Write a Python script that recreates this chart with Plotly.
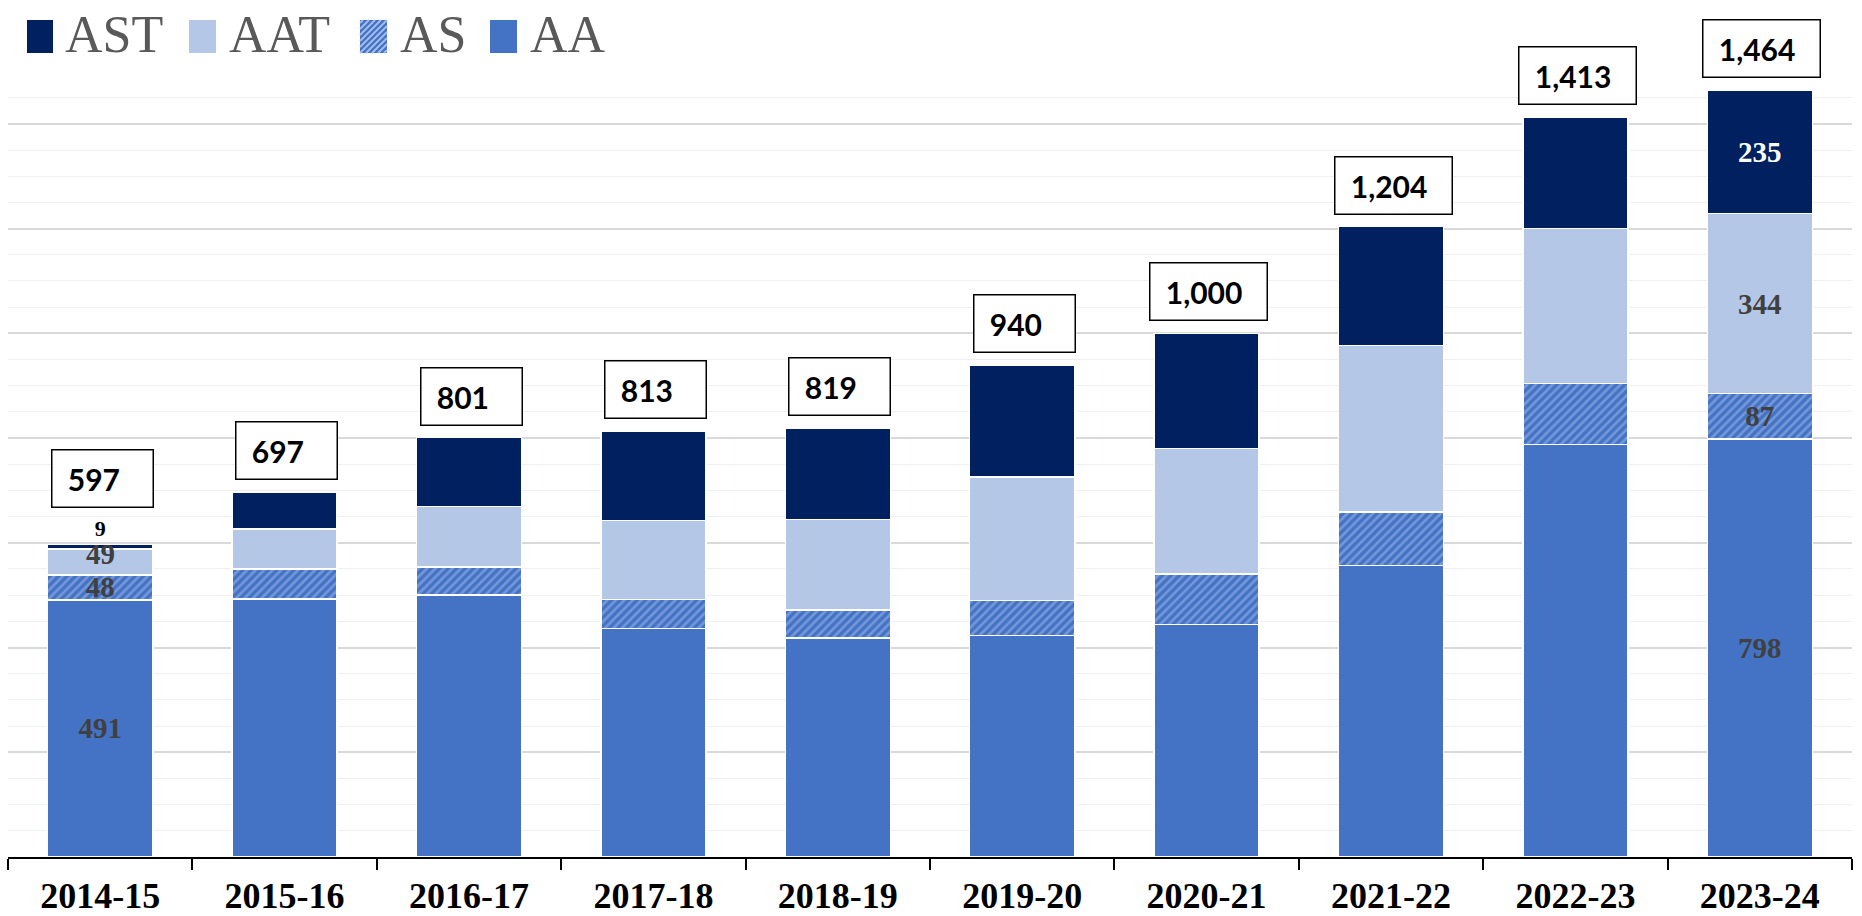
import plotly.graph_objects as go

# ---------------- data ----------------
years = ["2014-15", "2015-16", "2016-17", "2017-18", "2018-19",
         "2019-20", "2020-21", "2021-22", "2022-23", "2023-24"]
aa = [491, 493, 500, 436, 418, 423, 444, 557, 788, 798]
as_ = [48, 57, 54, 56, 54, 67, 96, 102, 116, 87]
aat = [49, 76, 115, 151, 173, 236, 240, 318, 296, 344]
ast = [9, 71, 132, 170, 174, 214, 220, 227, 213, 235]
totals = [597, 697, 801, 813, 819, 940, 1000, 1204, 1413, 1464]

# segment labels shown only on first and last bar
labelled = [0, 9]
legend_names = ["AST", "AAT", "AS", "AA"]

# ---------------- geometry ----------------
FIG_W, FIG_H = 1862, 916
M_L, M_R, M_T, M_B = 8, 10, 71, 59
PW = FIG_W - M_L - M_R
PH = FIG_H - M_T - M_B

C_AA = "#4472c4"
C_AAT = "#b4c7e7"
C_AST = "#002060"
C_STRIPE = "#a3bdec"


def seg_text(vals, skip=()):
    return [str(v) if (i in labelled and i not in skip) else "" for i, v in enumerate(vals)]


def px2paper(px, py):
    return (px - M_L) / PW, (FIG_H - M_B - py) / PH


line = dict(color="white", width=1.5)
lab_font = dict(family="Liberation Serif", size=29, color="#404040", weight="bold")

fig = go.Figure()
fig.add_bar(x=years, y=aa, name="AA", marker=dict(color=C_AA, line=line),
            text=seg_text(aa), textposition="inside", insidetextanchor="middle",
            textangle=0, constraintext="none", textfont=lab_font, cliponaxis=False)
fig.add_bar(x=years, y=as_, name="AS",
            marker=dict(color=C_AA, line=line,
                        pattern=dict(shape="/", fgcolor=C_STRIPE, bgcolor=C_AA,
                                     size=6, solidity=0.45, fillmode="overlay")),
            text=seg_text(as_), textposition="inside", insidetextanchor="middle",
            textangle=0, constraintext="none", textfont=lab_font, cliponaxis=False)
# first-bar AAT label is placed as an annotation (nudged upward like the original)
fig.add_bar(x=years, y=aat, name="AAT", marker=dict(color=C_AAT, line=line),
            text=seg_text(aat, skip=(0,)), textposition="inside", insidetextanchor="middle",
            textangle=0, constraintext="none", textfont=lab_font, cliponaxis=False)
fig.add_bar(x=years, y=ast, name="AST", marker=dict(color=C_AST, line=line),
            text=seg_text(ast),
            textposition=["outside"] + ["inside"] * (len(ast) - 1),
            insidetextanchor="middle", textangle=0, constraintext="none",
            insidetextfont=dict(family="Liberation Serif", size=29, color="white", weight="bold"),
            outsidetextfont=dict(family="Liberation Serif", size=22, color="black", weight="bold"),
            cliponaxis=False)

annotations = []
annotations.append(dict(
    x=years[0], y=aa[0] + as_[0] + aat[0] / 2, xref="x", yref="y", text=str(aat[0]),
    showarrow=False, yanchor="middle", xanchor="center", yshift=8,
    font=lab_font))

# ---------------- total labels ----------------
for i, (yr, t) in enumerate(zip(years, totals)):
    annotations.append(dict(
        x=yr, y=t, xref="x", yref="y", text="\u00a0" + f"{t:,}",
        showarrow=False, yanchor="bottom", xanchor="center",
        yshift=36 if i == 0 else 12, xshift=2,
        font=dict(family="Lato", size=30, color="black", weight="bold"),
        bordercolor="black", borderwidth=1.5, borderpad=8, bgcolor="white",
        width=84 if t < 1000 else 100, height=40, valign="middle", align="left"))

# ---------------- custom legend ----------------
shapes = []
sw_y0, sw_y1 = 20, 53
sw_x = {"AST": (27, 53), "AAT": (189, 216), "AS": (360, 387), "AA": (490, 517)}
txt_x = {"AST": 63, "AAT": 227, "AS": 398, "AA": 528}
sw_col = {"AST": C_AST, "AAT": C_AAT, "AS": C_AA, "AA": C_AA}
for nm in legend_names:
    x0, x1 = sw_x[nm]
    a0, b0 = px2paper(x0, sw_y1)
    a1, b1 = px2paper(x1, sw_y0)
    shapes.append(dict(type="rect", xref="paper", yref="paper", x0=a0, x1=a1, y0=b0, y1=b1,
                       fillcolor=sw_col[nm], line=dict(width=0), layer="above"))
    if nm == "AS":
        c = x0 + sw_y0 + 3
        while c < x1 + sw_y1:
            xa = max(x0, c - sw_y1)
            xb = min(x1, c - sw_y0)
            if xb > xa:
                p0 = px2paper(xa, c - xa)
                p1 = px2paper(xb, c - xb)
                shapes.append(dict(type="line", xref="paper", yref="paper",
                                   x0=p0[0], y0=p0[1], x1=p1[0], y1=p1[1],
                                   line=dict(color=C_STRIPE, width=2), layer="above"))
            c += 6
    tx, ty = px2paper(txt_x[nm], 35)
    annotations.append(dict(x=tx, y=ty, xref="paper", yref="paper", text=nm,
                            showarrow=False, xanchor="left", yanchor="middle",
                            font=dict(family="Liberation Serif", size=52, color="#595959")))

fig.update_layout(
    width=FIG_W, height=FIG_H, autosize=False,
    margin=dict(l=M_L, r=M_R, t=M_T, b=M_B, pad=0, autoexpand=False),
    barmode="stack", bargap=0.43,
    plot_bgcolor="white", paper_bgcolor="white",
    showlegend=False,
    annotations=annotations, shapes=shapes,
    xaxis=dict(type="category", showline=True, linecolor="black", linewidth=2,
               ticks="outside", tickson="boundaries", ticklen=11, tickwidth=2,
               tickcolor="black", showgrid=False, ticklabelstandoff=6, automargin=False,
               tickfont=dict(family="Liberation Serif", size=36, color="black", weight="bold")),
    yaxis=dict(range=[0, 1501], tick0=0, dtick=200, showgrid=True, gridcolor="#d9d9d9",
               gridwidth=2, showticklabels=False, zeroline=False, ticks="", automargin=False,
               minor=dict(dtick=50, tick0=0, showgrid=True, gridcolor="#efefef", gridwidth=1)),
)

fig.write_html("out.html", config={"displayModeBar": False},
               post_script="document.body.style.margin='0';document.body.style.overflow='hidden';")
